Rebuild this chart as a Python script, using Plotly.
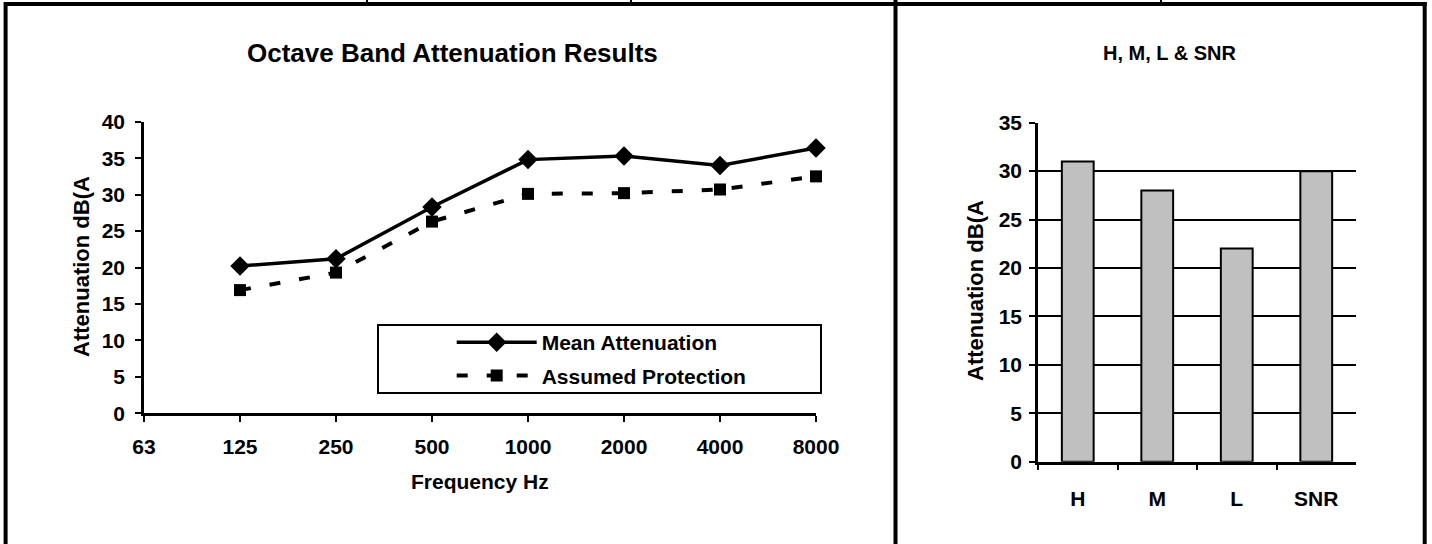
import plotly.graph_objects as go

# ---- data ----
freq_labels = ["63", "125", "250", "500", "1000", "2000", "4000", "8000"]
mean_att = [None, 20.2, 21.2, 28.3, 34.8, 35.3, 34.0, 36.4]
assumed_prot = [None, 16.9, 19.3, 26.3, 30.1, 30.2, 30.7, 32.5]

hml_labels = ["H", "M", "L", "SNR"]
hml_values = [31, 28, 22, 30]

W, H = 1432, 544
FONT = "Liberation Sans, Arial, sans-serif"


def px(x):
    return x / W


def py(y):
    return (H - y) / H


fig = go.Figure()

fig.add_trace(go.Scatter(
    x=freq_labels, y=mean_att, name="Mean Attenuation",
    mode="lines+markers", xaxis="x", yaxis="y",
    line=dict(color="black", width=3.5),
    marker=dict(symbol="diamond", size=15, color="black"),
    cliponaxis=False, legendgroup="a",
))
fig.add_trace(go.Scatter(
    x=freq_labels, y=assumed_prot, name="Assumed Protection",
    mode="lines+markers", xaxis="x", yaxis="y",
    line=dict(color="black", width=4, dash="11px,19px"),
    marker=dict(symbol="square", size=12, color="black"),
    cliponaxis=False, legendgroup="b",
))
fig.add_trace(go.Bar(
    x=hml_labels, y=hml_values, xaxis="x2", yaxis="y2",
    marker=dict(color="#C0C0C0", line=dict(color="black", width=2)),
    showlegend=False,
))

tickfont = dict(family=FONT, size=21, color="black", weight="bold")

left_xdom = [px(144), px(816)]
left_ydom = [py(413.3), py(121.7)]
right_xdom = [px(1038), px(1356)]
right_ydom = [py(461.7), py(122.7)]

common_tick = dict(ticklen=6, tickwidth=2, tickcolor="black", automargin=False)

fig.update_layout(
    width=W, height=H,
    margin=dict(l=0, r=0, t=0, b=0, pad=0, autoexpand=False),
    paper_bgcolor="white", plot_bgcolor="white",
    font=dict(family=FONT, color="black"),
    bargap=0.6,
    xaxis=dict(
        domain=left_xdom, anchor="y", type="category",
        categoryorder="array", categoryarray=freq_labels,
        range=[0, 7], showgrid=False, zeroline=False,
        showline=True, linecolor="black", linewidth=2.5,
        ticks="outside", tickfont=tickfont, ticklabelstandoff=7,
        **common_tick,
    ),
    yaxis=dict(
        domain=left_ydom, anchor="x", range=[0, 40], dtick=5,
        showgrid=False, zeroline=False,
        showline=True, linecolor="black", linewidth=2.5,
        ticks="outside", tickfont=tickfont, ticklabelstandoff=6,
        **common_tick,
    ),
    xaxis3=dict(
        overlaying="x", anchor="y", domain=left_xdom, range=[0, 7],
        tickmode="array", tickvals=list(range(8)), showticklabels=False,
        showgrid=False, zeroline=False, showline=False,
        ticks="inside", **common_tick,
    ),
    yaxis3=dict(
        overlaying="y", anchor="x", range=[0, 40], dtick=5,
        showticklabels=False, showgrid=False, zeroline=False, showline=False,
        ticks="inside", **common_tick,
    ),
    xaxis2=dict(
        domain=right_xdom, anchor="y2", type="category",
        range=[-0.5, 3.5], tickson="boundaries",
        showgrid=False, zeroline=False,
        showline=True, linecolor="black", linewidth=2.5,
        ticks="outside", tickfont=tickfont, ticklabelstandoff=16,
        **common_tick,
    ),
    yaxis2=dict(
        domain=right_ydom, anchor="x2", range=[0, 35], dtick=5,
        showgrid=True, gridcolor="black", gridwidth=2, zeroline=False,
        showline=True, linecolor="black", linewidth=2.5,
        ticks="outside", tickfont=tickfont, ticklabelstandoff=3,
        **common_tick,
    ),
    legend=dict(
        x=px(541.7 - 90), y=py(322), xanchor="left", yanchor="top",
        bgcolor="rgba(0,0,0,0)", borderwidth=0,
        font=dict(family=FONT, size=21, color="black", weight="bold"),
        tracegroupgap=3, itemwidth=80,
    ),
    showlegend=True,
)

shapes = []
line_black = dict(color="black", width=4)
# outer frame
shapes.append(dict(type="line", xref="paper", yref="paper",
                   x0=px(4), x1=px(1426.7), y0=py(4), y1=py(4), line=line_black))
shapes.append(dict(type="line", xref="paper", yref="paper",
                   x0=px(5.6), x1=px(5.6), y0=py(2), y1=py(544), line=line_black))
shapes.append(dict(type="line", xref="paper", yref="paper",
                   x0=px(1424.7), x1=px(1424.7), y0=py(2), y1=py(544), line=line_black))
shapes.append(dict(type="line", xref="paper", yref="paper",
                   x0=px(895.5), x1=px(895.5), y0=py(0), y1=py(544), line=line_black))
for xv in [367, 631, 1161]:
    shapes.append(dict(type="line", xref="paper", yref="paper",
                       x0=px(xv), x1=px(xv), y0=py(0), y1=py(3),
                       line=dict(color="black", width=2)))
# legend box
shapes.append(dict(type="rect", xref="paper", yref="paper",
                   x0=px(378), x1=px(821), y0=py(393), y1=py(325),
                   line=dict(color="black", width=2), fillcolor="rgba(0,0,0,0)"))
fig.update_layout(shapes=shapes)


def tfont(size):
    return dict(family=FONT, size=size, color="black", weight="bold")


ann = [
    dict(text="Octave Band Attenuation Results", x=px(453), y=py(53), font=tfont(26)),
    dict(text="H, M, L & SNR", x=px(1170), y=py(53), font=tfont(20)),
    dict(text="Frequency Hz", x=px(480), y=py(481), font=tfont(21)),
    dict(text="Attenuation dB(A", x=px(81), y=py(267), textangle=-90, font=tfont(22)),
    dict(text="Attenuation dB(A", x=px(975), y=py(291), textangle=-90, font=tfont(22)),
]
for a in ann:
    a.update(xref="paper", yref="paper", showarrow=False,
             xanchor="center", yanchor="middle")
fig.update_layout(annotations=ann)

fig.write_html(
    "out.html",
    config={"displayModeBar": False},
    post_script="document.body.style.margin='0px';"
                "document.body.style.overflow='hidden';",
)
